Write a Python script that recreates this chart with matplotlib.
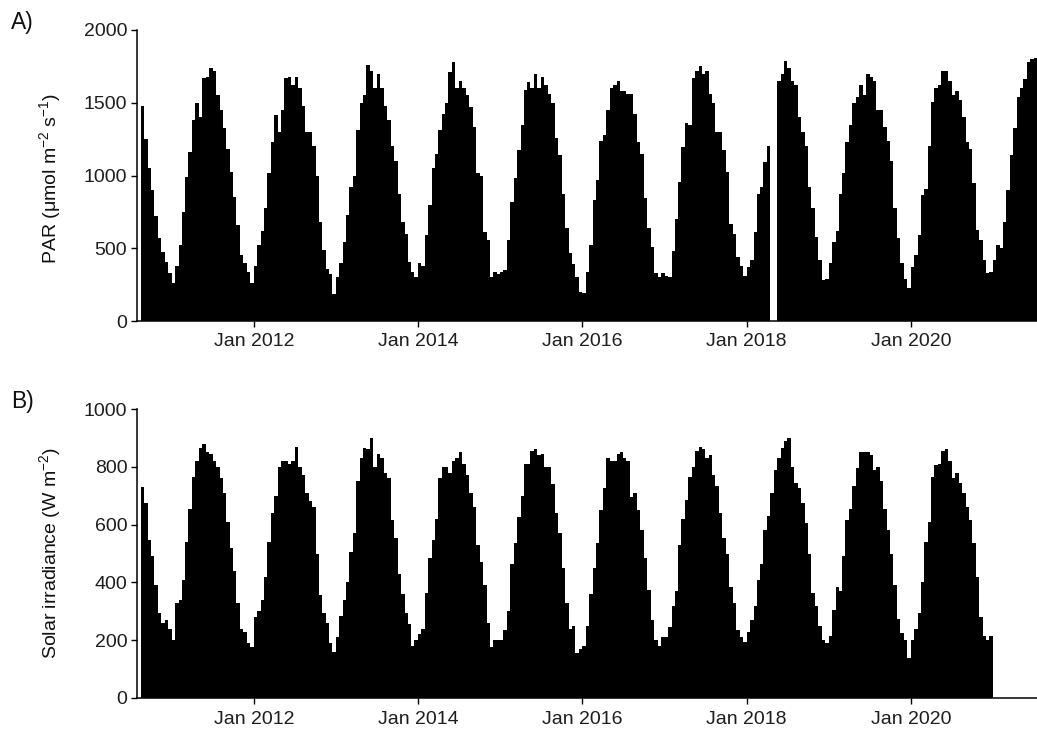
import numpy as np
import pandas as pd
import matplotlib
matplotlib.use("Agg")
import matplotlib.pyplot as plt

plt.rcParams['font.family'] = ['Liberation Sans', 'DejaVu Sans']
plt.rcParams['mathtext.fontset'] = 'custom'
plt.rcParams['mathtext.rm'] = 'Liberation Sans'
plt.rcParams['mathtext.it'] = 'Liberation Sans'

# semi-monthly values (1st / 15th of each month), starting mid-August 2010
start = '2010-08-15'

# PAR (umol m-2 s-1); nan = sensor gap spring 2018
par = [
    1480, 1250, 1050, 900, 720, 570, 475, 405, 330,
    260, 380, 520, 750, 990, 1160, 1380, 1500, 1400, 1670, 1680, 1740, 1720, 1550, 1450, 1325, 1180, 1025, 850, 660, 455, 400, 340, 260,
    380, 520, 620, 780, 1015, 1230, 1415, 1300, 1450, 1670, 1680, 1620, 1680, 1600, 1480, 1300, 1300, 1200, 1000, 680, 490, 360, 320, 185,
    300, 400, 540, 730, 920, 1000, 1310, 1500, 1550, 1760, 1720, 1600, 1700, 1600, 1480, 1380, 1200, 1100, 870, 680, 600, 405, 340, 300,
    400, 380, 590, 800, 1050, 1150, 1310, 1420, 1500, 1710, 1780, 1600, 1650, 1600, 1550, 1470, 1330, 1015, 1000, 610, 560, 300, 340, 320,
    340, 350, 560, 820, 980, 1175, 1350, 1590, 1640, 1600, 1700, 1600, 1680, 1620, 1560, 1500, 1260, 1140, 870, 640, 470, 390, 300, 200,
    190, 340, 520, 830, 970, 1240, 1280, 1450, 1600, 1620, 1650, 1580, 1580, 1560, 1560, 1420, 1230, 1150, 845, 640, 510, 330, 300, 330,
    310, 300, 480, 700, 955, 1195, 1360, 1350, 1670, 1720, 1750, 1700, 1720, 1560, 1500, 1300, 1300, 1175, 1025, 670, 600, 440, 380, 310,
    370, 420, 610, 870, 920, 1090, 1200, np.nan, np.nan, 1650, 1700, 1790, 1740, 1650, 1620, 1400, 1300, 1200, 920, 780, 580, 420, 280, 290,
    400, 540, 620, 870, 1020, 1230, 1350, 1500, 1540, 1620, 1550, 1700, 1680, 1650, 1450, 1450, 1330, 1240, 1100, 775, 570, 400, 290, 230,
    370, 455, 590, 865, 910, 1200, 1505, 1600, 1620, 1720, 1720, 1650, 1550, 1580, 1520, 1400, 1230, 1180, 950, 625, 560, 420, 330, 340,
    420, 520, 500, 680, 900, 1140, 1325, 1540, 1600, 1660, 1780, 1800, 1810,
]

# solar irradiance (W m-2), record ends Dec 2020
solar = [
    730, 675, 545, 490, 390, 295, 260, 270, 240,
    200, 330, 340, 410, 540, 655, 765, 820, 865, 880, 850, 845, 820, 800, 760, 710, 610, 520, 440, 330, 240, 230, 190, 175,
    280, 300, 340, 420, 540, 640, 700, 800, 820, 820, 810, 820, 870, 800, 770, 710, 680, 660, 500, 355, 295, 260, 190, 160,
    210, 285, 340, 400, 505, 570, 750, 830, 865, 860, 900, 800, 845, 830, 780, 760, 615, 555, 430, 360, 295, 255, 180, 200,
    220, 240, 365, 485, 545, 620, 760, 800, 800, 780, 820, 830, 850, 810, 770, 710, 660, 530, 470, 390, 260, 175, 200, 200,
    200, 235, 300, 465, 535, 625, 700, 810, 810, 855, 860, 840, 845, 800, 800, 740, 640, 570, 450, 330, 240, 250, 155, 170,
    180, 250, 360, 450, 535, 650, 725, 830, 820, 820, 845, 850, 830, 820, 695, 710, 650, 580, 485, 375, 270, 200, 180, 210,
    210, 245, 320, 370, 530, 620, 685, 765, 800, 855, 870, 860, 830, 840, 770, 735, 640, 555, 500, 385, 330, 235, 210, 195,
    230, 270, 320, 410, 465, 580, 630, 710, 790, 830, 865, 890, 900, 800, 745, 725, 675, 605, 500, 365, 320, 250, 200, 190,
    215, 305, 385, 370, 490, 615, 655, 735, 795, 850, 850, 850, 840, 790, 800, 750, 655, 580, 500, 390, 275, 225, 200, 140,
    200, 240, 295, 400, 540, 610, 765, 805, 810, 855, 860, 820, 760, 780, 745, 710, 660, 615, 535, 420, 280, 215, 200, 215,
]

tick_years = [2012, 2014, 2016, 2018, 2020]
tick_labels = ['Jan %d' % y for y in tick_years]
xmin, xmax = pd.Timestamp('2010-07-30'), pd.Timestamp('2021-07-15')


def draw(ax, vals, ymax, yticks, ylabel, tag, fig, ylab_y, tag_y):
    edges = pd.date_range(start, periods=len(vals) + 1, freq='SMS')
    widths = np.diff(edges.values).astype('timedelta64[s]').astype(float) / 86400
    ax.bar(edges[:-1], vals, width=widths, align='edge', color='black', linewidth=0)
    ax.set_xlim(xmin, xmax)
    ax.set_ylim(0, ymax)
    ax.set_yticks(yticks)
    ax.set_xticks([pd.Timestamp('%d-01-01' % y) for y in tick_years])
    ax.set_xticklabels(tick_labels)
    for s in ['top', 'right']:
        ax.spines[s].set_visible(False)
    for s in ['left', 'bottom']:
        ax.spines[s].set_linewidth(1.1)
    ax.tick_params(length=4, width=1.0, labelsize=14, labelcolor='#1e1e1e')
    ax.tick_params(axis='x', pad=5)
    ax.tick_params(axis='y', pad=3)
    fig.text(50 / 1037, 1 - ylab_y / 733, ylabel, rotation=90, ha='center', va='center',
             fontsize=14, color='#111111')
    fig.text(11 / 1037, 1 - tag_y / 733, tag, ha='left', va='center', fontsize=16.5, color='#111111')


fig = plt.figure(figsize=(10.37, 7.33), dpi=100)
axA = fig.add_axes([137 / 1037, 1 - 321 / 733, 900 / 1037, 291 / 733])
axB = fig.add_axes([137 / 1037, 1 - 698 / 733, 900 / 1037, 289 / 733])

draw(axA, par, 2000, [0, 500, 1000, 1500, 2000],
     r'PAR ($\mathregular{\mu}$mol m$^{-2}$ s$^{-1}$)', 'A)', fig, 178, 22)
draw(axB, solar, 1000, [0, 200, 400, 600, 800, 1000],
     r'Solar irradiance (W m$^{-2}$)', 'B)', fig, 553, 401)

fig.savefig('out.png', dpi=100)
